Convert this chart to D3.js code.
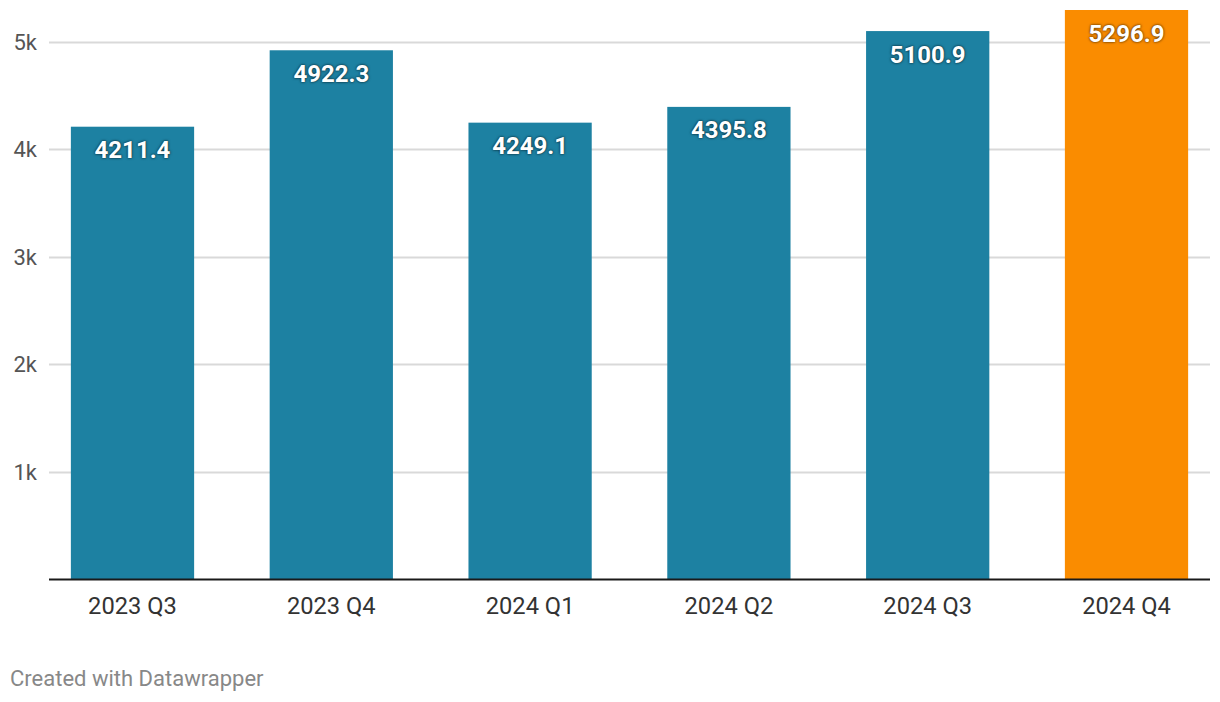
<!DOCTYPE html>
<html><head><meta charset="utf-8">
<script src="https://cdn.jsdelivr.net/npm/d3@7"></script>
<style>
html,body{margin:0;padding:0;background:#fff;}
svg{display:block;font-family:Roboto, "Noto Sans", sans-serif;}
.val{text-shadow:0 0 3px rgba(0,0,0,0.55),0 0 2px rgba(0,0,0,0.45);}
</style></head><body>
<svg id="c" width="1220" height="702"></svg>
<script>
const categories = ["2023 Q3","2023 Q4","2024 Q1","2024 Q2","2024 Q3","2024 Q4"];
const values = [4211.4, 4922.3, 4249.1, 4395.8, 5100.9, 5296.9];
const highlight = ["2024 Q4"];
const yTicks = [1000,2000,3000,4000,5000];
const yTickLabels = ["1k","2k","3k","4k","5k"];

(function(){
const svg = d3.select("#c");
const mLeft = 49, mRight = 1210, mTop = 10, mBottom = 579.5;
const y = d3.scaleLinear().domain([0, 5296.9]).range([mBottom, mTop]);
const x = d3.scaleBand().domain(categories).range([mLeft, mRight]).paddingInner(0.38).paddingOuter(0.11);

svg.append("g").selectAll("line").data(yTicks).join("line")
  .attr("x1", mLeft).attr("x2", mRight)
  .attr("y1", d => Math.round(y(d)) + 0.5).attr("y2", d => Math.round(y(d)) + 0.5)
  .attr("stroke", "#d9d9d9").attr("stroke-width", 2);
svg.append("g").selectAll("text").data(yTicks).join("text")
  .attr("x", 37).attr("y", d => y(d)).attr("dy", "0.35em")
  .attr("text-anchor", "end").attr("font-size", 22).attr("fill", "#555")
  .text((d, i) => yTickLabels[i]);

svg.append("g").selectAll("rect").data(values).join("rect")
  .attr("x", (d, i) => x(categories[i])).attr("width", x.bandwidth())
  .attr("y", d => y(d)).attr("height", d => mBottom - y(d))
  .attr("fill", (d, i) => highlight.includes(categories[i]) ? "#fa8c00" : "#1d81a2");

svg.append("line").attr("x1", mLeft).attr("x2", mRight)
  .attr("y1", mBottom).attr("y2", mBottom).attr("stroke", "#1a1a1a").attr("stroke-width", 2);

svg.append("g").selectAll("text").data(values).join("text")
  .attr("class", "val")
  .attr("x", (d, i) => x(categories[i]) + x.bandwidth() / 2)
  .attr("y", d => y(d) + 31.5)
  .attr("text-anchor", "middle").attr("font-size", 24).attr("font-weight", "bold")
  .attr("fill", "#fff")
  .text(d => d.toFixed(1));

svg.append("g").selectAll("text").data(categories).join("text")
  .attr("x", d => x(d) + x.bandwidth() / 2).attr("y", 613.5)
  .attr("text-anchor", "middle").attr("font-size", 23.7).attr("fill", "#333")
  .text(d => d);

svg.append("text").attr("x", 10).attr("y", 686).attr("font-size", 22).attr("fill", "#888")
  .text("Created with Datawrapper");
})();
</script></body></html>
